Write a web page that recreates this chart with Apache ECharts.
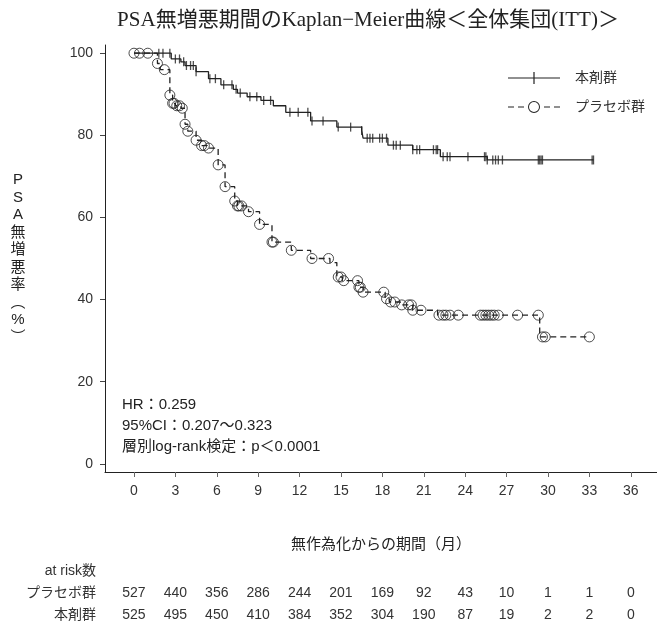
<!DOCTYPE html>
<html>
<head>
<meta charset="utf-8">
<script src="https://cdn.jsdelivr.net/npm/echarts@6/dist/echarts.min.js"></script>
<style>
html, body { margin: 0; padding: 0; background: #fff; }
#echartsMain { width: 657px; height: 626px; }
</style>
</head>
<body>
<div id="echartsMain"></div>
<script>
// 本剤群: イベント時点（月）と生存率（%）
var treatTime = [0, 2.7, 3.4, 3.7, 4.5, 5.4, 6.3, 7.2, 7.5, 8.2, 9.2, 10.1, 11.0, 12.8, 14.7, 16.5, 16.6, 18.4, 20.2, 22.2, 25.6];
var treatSurv = [100, 98.6, 97.9, 97.0, 95.5, 93.8, 92.3, 91.2, 90.3, 89.4, 88.5, 87.2, 85.6, 83.5, 82.0, 81.2, 79.3, 77.6, 76.5, 74.8, 74.0];
var treatCensor = [1.8, 2.1, 2.6, 3.0, 3.3, 3.6, 3.8, 4.1, 4.3, 4.5, 5.5, 5.9, 6.5, 7.1, 7.4, 7.7, 8.4, 8.9, 9.4, 9.9,
	11.3, 11.9, 12.6, 12.9, 13.7, 14.8, 15.7, 16.5, 16.9, 17.1, 17.3, 17.8, 18.0, 18.3, 18.8, 19.0, 19.3,
	20.2, 20.5, 20.7, 21.7, 21.9, 22.0, 22.4, 22.7, 22.9, 24.2, 25.4, 25.5, 25.6, 26.0, 26.2, 26.4, 26.7,
	29.3, 29.4, 29.5, 29.6, 33.2, 33.3];

// プラセボ群
var placTime = [0, 1.7, 1.9, 2.6, 2.8, 3.0, 3.4, 3.7, 3.9, 4.5, 4.9, 5.3, 6.1, 6.6, 7.3, 7.5, 8.3, 9.1, 10.0, 11.4, 12.8, 14.2, 14.7, 15.1, 16.3, 16.6, 18.2, 18.5, 19.3, 20.2, 22.0, 29.4];
var placSurv = [100, 97.5, 96.0, 89.8, 87.8, 87.2, 86.6, 82.7, 81.0, 78.8, 77.5, 76.9, 72.8, 67.5, 64.0, 62.8, 61.4, 58.3, 54.0, 52.0, 50.0, 49.0, 45.5, 44.6, 43.0, 41.8, 40.2, 39.4, 38.7, 37.4, 36.2, 30.9];
var placCensor = [0, 0.4, 1.0, 1.7, 2.2, 2.6, 2.8, 2.9, 3.1, 3.3, 3.5, 3.7, 3.9, 4.5, 4.9, 5.1, 5.4, 6.1, 6.6, 7.3, 7.5, 7.6, 7.8,
	8.3, 9.1, 10.0, 10.1, 11.4, 12.9, 14.1, 14.8, 15.0, 15.2, 16.2, 16.3, 16.4, 16.6, 18.1, 18.3, 18.6, 18.9,
	19.4, 19.9, 20.1, 20.2, 20.8, 22.1, 22.4, 22.6, 22.9, 23.5, 25.1, 25.3, 25.5, 25.7, 25.9, 26.1, 26.4, 27.8,
	29.3, 29.6, 29.8, 33.0];

// x軸目盛とat risk数
var monthTicks = [0, 3, 6, 9, 12, 15, 18, 21, 24, 27, 30, 33, 36];
var riskPlac = [527, 440, 356, 286, 244, 201, 169, 92, 43, 10, 1, 1, 0];
var riskTreat = [525, 495, 450, 410, 384, 352, 304, 190, 87, 19, 2, 2, 0];
var pctTicks = [0, 20, 40, 60, 80, 100];

var sansFont = "'Liberation Sans', 'Noto Sans CJK JP', sans-serif";
var ink = '#222';

// ステップ関数から値を引く
function survAt(times, surv, t) {
	var v = surv[0];
	for (var i = 0; i < times.length; i++) {
		if (times[i] <= t) v = surv[i];
	}
	return v;
}
function curve(times, surv, censor) {
	var pts = times.map(function (t, i) { return [t, surv[i]]; });
	var last = censor[censor.length - 1];
	pts.push([last, survAt(times, surv, last)]);
	return pts;
}
function marks(times, surv, censor) {
	return censor.map(function (t) { return [t, survAt(times, surv, t)]; });
}
function riskAxis(arr, offset) {
	return {
		type: 'value', min: -2.1, max: 37.9, position: 'bottom', offset: offset,
		axisLine: { show: false, onZero: false }, axisTick: { show: false }, splitLine: { show: false },
		axisLabel: {
			customValues: monthTicks, margin: 14, fontSize: 14, color: '#333', fontFamily: sansFont,
			formatter: function (v) { return String(arr[monthTicks.indexOf(v)]); }
		}
	};
}

var myChart = echarts.init(document.getElementById('echartsMain'));

var option = {
	animation: false,
	title: {
		text: 'PSA無増悪期間のKaplan−Meier曲線＜全体集団(ITT)＞',
		left: 363, top: 5, textAlign: 'center',
		textStyle: { fontFamily: "'Liberation Serif', 'Noto Sans CJK JP', serif", fontWeight: 'normal', fontSize: 21, color: ink }
	},
	legend: {
		orient: 'vertical', left: 503, top: 66, itemWidth: 52, itemHeight: 12, itemGap: 15,
		itemStyle: { borderWidth: 0 },
		textStyle: { fontSize: 14, color: '#333', fontFamily: sansFont, padding: [0, 0, 0, 10] },
		data: [
			{ name: '本剤群', icon: 'path://M0,5.4h52v1.2H0z M25.4,0h1.2v12h-1.2z' },
			{ name: 'プラセボ群', icon: 'path://M0,5.4h6v1.2H0z M10,5.4h6v1.2h-6z M36,5.4h6v1.2h-6z M46,5.4h6v1.2h-6z M20,6a6,6 0 1 1 12,0a6,6 0 1 1 -12,0z M21,6a5,5 0 1 0 10,0a5,5 0 1 0 -10,0z' }
		]
	},
	grid: { left: 105, right: 0, top: 45, bottom: 154 },
	xAxis: [{
		type: 'value', min: -2.1, max: 37.9,
		name: '無作為化からの期間（月）', nameLocation: 'middle', nameGap: 65,
		nameTextStyle: { fontSize: 15, color: ink, fontFamily: sansFont },
		axisLine: { onZero: false, lineStyle: { color: ink, width: 1 } },
		axisTick: { customValues: monthTicks, length: 5, lineStyle: { color: '#666' } },
		axisLabel: { customValues: monthTicks, margin: 12, fontSize: 14, color: '#333', fontFamily: sansFont },
		splitLine: { show: false }
	}, riskAxis(riskPlac, 100), riskAxis(riskTreat, 122)],
	yAxis: {
		type: 'value', min: -2, max: 102,
		axisLine: { show: true, onZero: false, lineStyle: { color: ink, width: 1 } },
		axisTick: { show: true, customValues: pctTicks, length: 5, lineStyle: { color: '#444' } },
		axisLabel: { customValues: pctTicks, margin: 12, fontSize: 14, color: '#333', fontFamily: sansFont },
		splitLine: { show: false }
	},
	graphic: [
		{ type: 'text', x: 18, y: 259, style: { text: 'P\nS\nA\n無\n増\n悪\n率\n︵\n%\n︶', textAlign: 'center', textVerticalAlign: 'middle', fontSize: 15, lineHeight: 17.5, fill: ink, fontFamily: sansFont } },
		{ type: 'text', x: 122, y: 405, style: { text: 'HR：0.259', textVerticalAlign: 'middle', fontSize: 15, fill: ink, fontFamily: sansFont } },
		{ type: 'text', x: 122, y: 426, style: { text: '95%CI：0.207～0.323', textVerticalAlign: 'middle', fontSize: 15, fill: ink, fontFamily: sansFont } },
		{ type: 'text', x: 122, y: 447, style: { text: '層別log-rank検定：p＜0.0001', textVerticalAlign: 'middle', fontSize: 15, fill: ink, fontFamily: sansFont } },
		{ type: 'text', x: 96, y: 571, style: { text: 'at risk数', textAlign: 'right', textVerticalAlign: 'middle', fontSize: 14, fill: '#333', fontFamily: sansFont } },
		{ type: 'text', x: 96, y: 593, style: { text: 'プラセボ群', textAlign: 'right', textVerticalAlign: 'middle', fontSize: 14, fill: '#333', fontFamily: sansFont } },
		{ type: 'text', x: 96, y: 615, style: { text: '本剤群', textAlign: 'right', textVerticalAlign: 'middle', fontSize: 14, fill: '#333', fontFamily: sansFont } }
	],
	series: [{
		name: '本剤群', type: 'line', step: 'end', symbol: 'none', silent: true,
		lineStyle: { color: ink, width: 1.3 }, itemStyle: { color: ink },
		data: curve(treatTime, treatSurv, treatCensor)
	}, {
		name: 'プラセボ群', type: 'line', step: 'end', symbol: 'none', silent: true,
		lineStyle: { color: ink, width: 1.3, type: [6, 4] }, itemStyle: { color: ink },
		data: curve(placTime, placSurv, placCensor)
	}, {
		name: '本剤群', type: 'scatter', symbol: 'rect', symbolSize: [1.3, 9], silent: true, z: 3,
		itemStyle: { color: ink },
		data: marks(treatTime, treatSurv, treatCensor)
	}, {
		name: 'プラセボ群', type: 'scatter', symbol: 'circle', symbolSize: 10, silent: true, z: 3,
		itemStyle: { color: 'rgba(0,0,0,0)', borderColor: ink, borderWidth: 1 },
		data: marks(placTime, placSurv, placCensor)
	}]
};

myChart.setOption(option);
</script>
</body>
</html>
